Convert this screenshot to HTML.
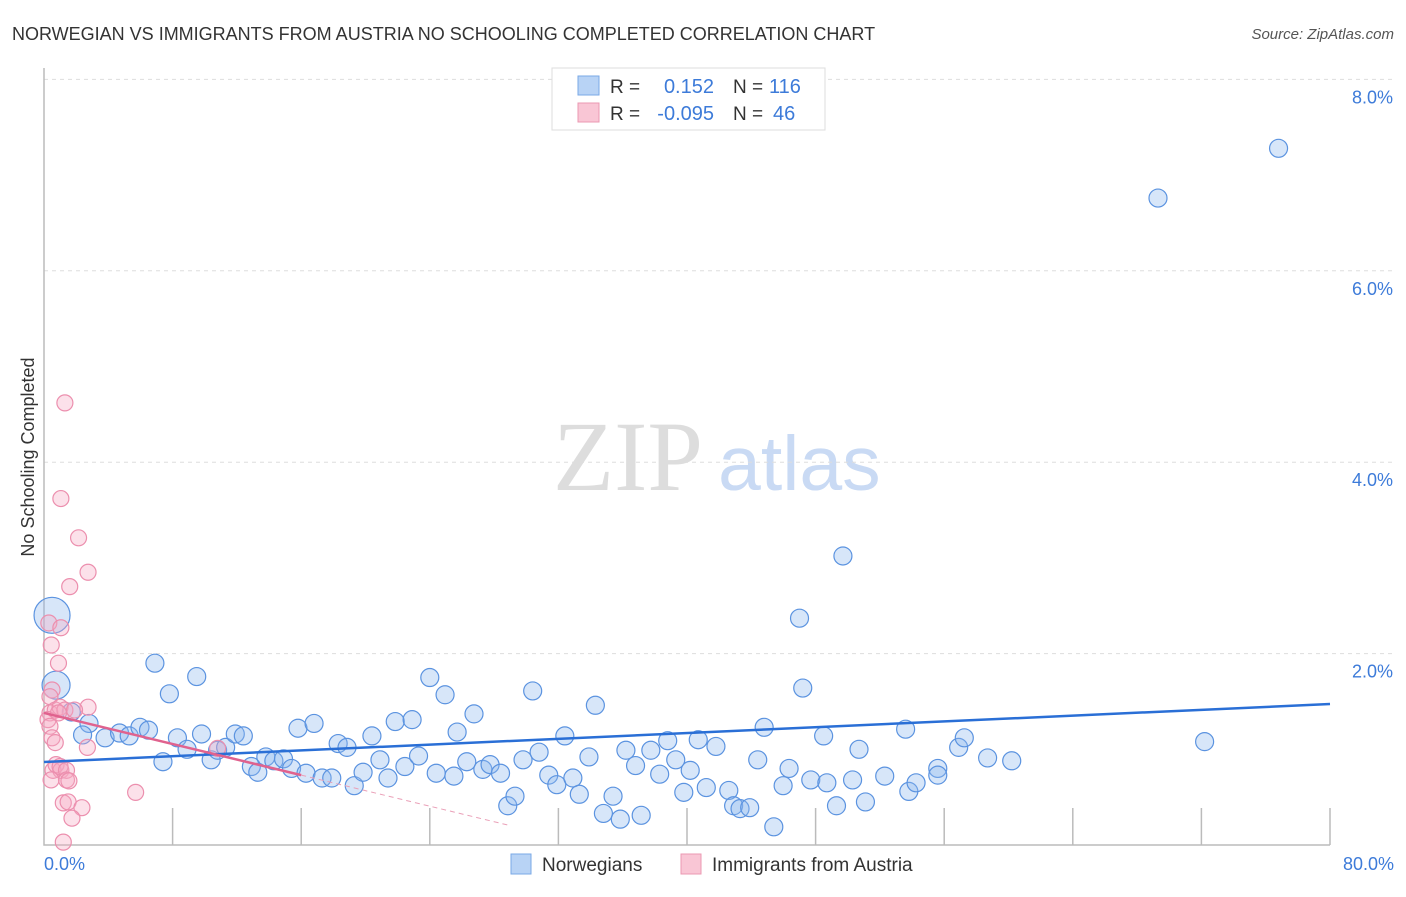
<!DOCTYPE html>
<html><head><meta charset="utf-8"><style>
body{margin:0;background:#fff;font-family:"Liberation Sans",sans-serif}
</style></head><body>
<svg width="1406" height="892" xmlns="http://www.w3.org/2000/svg" font-family="Liberation Sans, sans-serif">
<text x="12" y="40" font-size="18" fill="#333">NORWEGIAN VS IMMIGRANTS FROM AUSTRIA NO SCHOOLING COMPLETED CORRELATION CHART</text>
<text x="1394" y="39" font-size="15" fill="#555" text-anchor="end" font-style="italic">Source: ZipAtlas.com</text>
<text x="553" y="490" font-size="100" fill="#ddd" font-family="Liberation Serif, serif">ZIP</text>
<text x="718" y="490" font-size="77" fill="#c9daf4">atlas</text>
<g id="grid"></g>
<g id="axes"></g>
<g id="marks"></g>
<text transform="translate(34,457) rotate(-90)" font-size="18" fill="#333" text-anchor="middle">No Schooling Completed</text>
<text x="44" y="870" font-size="18" fill="#3d7bd9">0.0%</text>
<text x="1394" y="870" font-size="18" fill="#3d7bd9" text-anchor="end">80.0%</text>
<g>
<rect x="552" y="68" width="273" height="62" fill="#fff" stroke="#ddd"/>
<rect x="578" y="76" width="21" height="19" fill="#b8d3f5" stroke="#7aa8e6"/>
<rect x="578" y="103" width="21" height="19" fill="#f9c6d5" stroke="#eb98b2"/>
<text x="610" y="93" font-size="19" fill="#333">R =</text>
<text x="714" y="93" font-size="20" fill="#3d7bd9" text-anchor="end">0.152</text>
<text x="733" y="93" font-size="19" fill="#333">N =</text>
<text x="769" y="93" font-size="20" fill="#3d7bd9">116</text>
<text x="610" y="120" font-size="19" fill="#333">R =</text>
<text x="714" y="120" font-size="20" fill="#3d7bd9" text-anchor="end">-0.095</text>
<text x="733" y="120" font-size="19" fill="#333">N =</text>
<text x="773" y="120" font-size="20" fill="#3d7bd9">46</text>
</g>
<g>
<rect x="511" y="854" width="20" height="20" fill="#b8d3f5" stroke="#7aa8e6"/>
<text x="542" y="871" font-size="19" fill="#333">Norwegians</text>
<rect x="681" y="854" width="20" height="20" fill="#f9c6d5" stroke="#eb98b2"/>
<text x="712" y="871" font-size="19" fill="#333">Immigrants from Austria</text>
</g>
</svg>
<script>
const yTicks=[2,4,6,8];
const yTickLabels=["2.0%","4.0%","6.0%","8.0%"];
const xTicks=[8,16,24,32,40,48,56,64,72,80];
const blueX=[0.5,0.75,6.9,9.5,7.8,1.7,2.8,2.4,3.8,4.7,5.3,5.97,6.5,7.4,8.3,8.9,9.8,10.4,10.8,11.3,11.9,12.4,12.9,13.3,13.8,14.3,14.9,15.4,15.8,16.3,16.8,17.3,17.9,18.3,18.85,19.3,19.85,20.4,20.9,21.4,21.85,22.45,22.9,23.3,24.0,24.4,24.95,25.5,25.7,26.3,26.75,27.3,27.75,28.4,28.85,29.3,29.8,30.4,30.8,31.4,31.9,32.4,32.9,33.3,33.9,34.3,34.8,35.4,35.85,36.2,36.8,37.15,37.75,38.3,38.8,39.3,39.8,40.2,40.7,41.2,41.8,42.6,42.9,43.3,43.9,44.4,44.8,45.4,45.98,46.35,47.0,47.2,47.7,48.5,48.7,49.3,49.7,50.3,50.7,51.1,52.3,53.6,53.8,54.25,55.6,55.6,56.9,57.25,58.7,60.2,69.3,72.2,76.8];
const blueY=[2.40,1.67,1.90,1.76,1.58,1.39,1.27,1.15,1.12,1.17,1.14,1.23,1.20,0.87,1.12,1.00,1.16,0.89,0.99,1.02,1.16,1.14,0.82,0.76,0.92,0.88,0.90,0.80,1.22,0.75,1.27,0.70,0.70,1.06,1.02,0.62,0.76,1.14,0.89,0.70,1.29,0.82,1.31,0.93,1.75,0.75,1.57,0.72,1.18,0.87,1.37,0.79,0.84,0.75,0.41,0.51,0.89,1.61,0.97,0.73,0.63,1.14,0.70,0.53,0.92,1.46,0.33,0.51,0.27,0.99,0.83,0.31,0.99,0.74,1.09,0.89,0.55,0.78,1.10,0.60,1.03,0.57,0.41,0.38,0.39,0.89,1.23,0.19,0.62,0.80,2.37,1.64,0.68,1.14,0.65,0.41,3.02,0.68,1.00,0.45,0.72,1.21,0.56,0.65,0.80,0.73,1.02,1.12,0.91,0.88,6.76,1.08,7.28];
const blueR=[18,14];
const pinkX=[1.3,1.05,2.15,2.74,1.6,0.3,1.05,0.45,0.9,0.5,0.37,2.74,0.37,0.7,1.0,0.25,0.37,0.5,0.7,2.7,0.56,0.75,1.05,1.0,1.4,1.4,1.55,0.44,1.2,1.5,2.36,1.74,1.2,5.7,10.8,1.3,1.9,0.9];
const pinkY=[4.62,3.62,3.21,2.85,2.70,2.32,2.27,2.09,1.90,1.62,1.55,1.44,1.38,1.41,1.44,1.31,1.24,1.12,1.07,1.02,0.78,0.84,0.78,0.82,0.78,0.68,0.67,0.68,0.44,0.45,0.39,0.28,0.03,0.55,1.01,1.41,1.41,1.38];
const blueTrend=[0.867,1.473];
const pinkTrend=[1.38,-0.0406];
const NS="http://www.w3.org/2000/svg";
const X=v=>44+v*16.075, Y=v=>845-v*95.7;
function mk(t,a,p){const e=document.createElementNS(NS,t);for(const k in a)e.setAttribute(k,a[k]);p.appendChild(e);return e;}
const grid=document.getElementById('grid'),axes=document.getElementById('axes'),marks=document.getElementById('marks');
yTicks.forEach((t,i)=>{
 const l=mk('line',{x1:44,x2:1394,y1:Y(t),y2:Y(t),stroke:'#ddd','stroke-dasharray':'4,4'},grid);
 
 
 const tx=mk('text',{x:1393,y:Y(t)+24,'font-size':18,fill:'#3d7bd9','text-anchor':'end'},grid);
 tx.textContent=yTickLabels[i];
 
 
});
const ax=mk('path',{d:'M44,68V845H1330',fill:'none',stroke:'#bbb','stroke-width':1.5},axes);


xTicks.forEach(t=>{
 const l=mk('line',{x1:X(t),x2:X(t),y1:808,y2:845,stroke:'#bbb','stroke-width':1.5},axes);
 
 
});
blueX.forEach((x,i)=>{
 const c=mk('circle',{cx:X(x),cy:Y(blueY[i]),r:blueR[i]||9,fill:'rgba(140,182,238,0.35)',stroke:'#5b93e0','stroke-width':1.2},marks);
 
 
});
pinkX.forEach((x,i)=>{
 const c=mk('circle',{cx:X(x),cy:Y(pinkY[i]),r:8,fill:'rgba(246,170,195,0.35)',stroke:'#ec8fae','stroke-width':1.2},marks);
 
 
});
const bt=mk('line',{x1:X(0),y1:Y(blueTrend[0]),x2:X(80),y2:Y(blueTrend[1]),stroke:'#2a6fd6','stroke-width':2.5},marks);


const pf=x=>pinkTrend[0]+pinkTrend[1]*x;
const ps=mk('line',{x1:X(0),y1:Y(pf(0)),x2:X(16),y2:Y(pf(16)),stroke:'#e0628e','stroke-width':2.5},marks);


const pd=mk('line',{x1:X(16),y1:Y(pf(16)),x2:X(29),y2:Y(pf(29)),stroke:'#eaa0b8','stroke-width':1,'stroke-dasharray':'5,4'},marks);


</script>
</body></html>
